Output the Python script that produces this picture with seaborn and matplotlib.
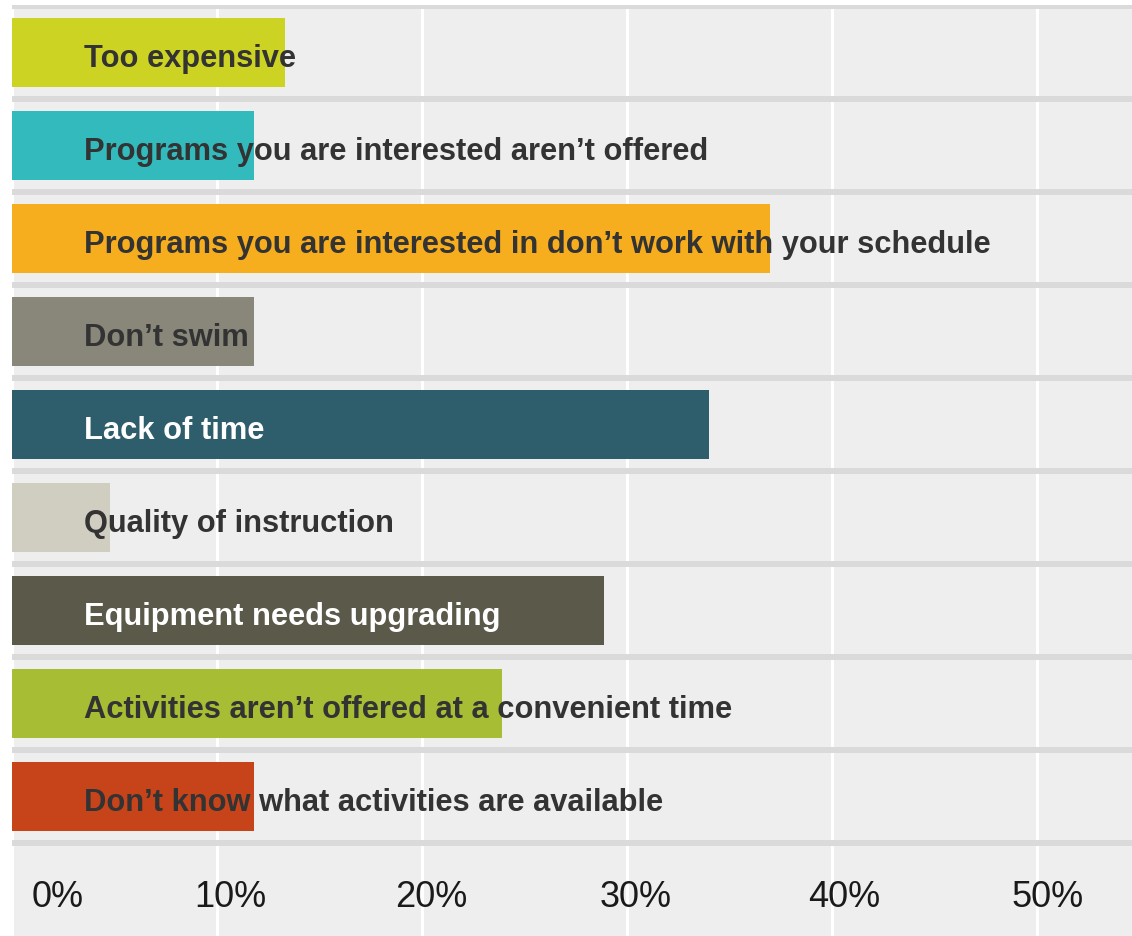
import pandas as pd
import seaborn as sns
import matplotlib.pyplot as plt
from matplotlib.transforms import ScaledTranslation, blended_transform_factory

# survey answers (share of respondents, %)
reasons = [
    "Too expensive",
    "Programs you are interested aren\u2019t offered",
    "Programs you are interested in don\u2019t work with your schedule",
    "Don\u2019t swim",
    "Lack of time",
    "Quality of instruction",
    "Equipment needs upgrading",
    "Activities aren\u2019t offered at a convenient time",
    "Don\u2019t know what activities are available",
]
shares = [13.3, 11.8, 37.0, 11.8, 34.0, 4.8, 28.9, 23.9, 11.8]
bar_colors = ["#cdd323", "#32babd", "#f6ae1e", "#88877a", "#2e5e6b",
              "#d0cec1", "#5b5949", "#a7bd34", "#c7441b"]
label_colors = ["#333333", "#333333", "#333333", "#333333", "#ffffff",
                "#333333", "#ffffff", "#333333", "#333333"]
x_ticks = [0, 10, 20, 30, 40, 50]
x_labels = ["0%", "10%", "20%", "30%", "40%", "50%"]

df = pd.DataFrame({"reason": reasons, "share": shares})

sns.set_style("white")
plt.rcParams["font.family"] = ["Liberation Sans", "DejaVu Sans"]

fig = plt.figure(figsize=(11.32, 9.37), dpi=100, facecolor="white")
ax = fig.add_axes([12 / 1132, 0, 1120 / 1132, 931 / 937])
ax.set_facecolor("#eeeeee")

sns.barplot(data=df, x="share", y="reason", hue="reason", orient="h",
            palette=dict(zip(reasons, bar_colors)), width=0.742,
            legend=False, saturation=1, linewidth=0, ax=ax)
for p in ax.patches:
    p.set_zorder(3)

ax.set_xlim(0, 54.66)
ax.set_ylim(9.495, -0.516)

# white vertical gridlines
ax.set_axisbelow(True)
ax.xaxis.grid(True, color="white", linewidth=2.2)
ax.yaxis.grid(False)

# grey row separators
for i in range(len(reasons) + 1):
    ax.axhline(i - 0.5, color="#dadada", linewidth=4.3, zorder=2)

# category labels inside the bars
trans = blended_transform_factory(ax.transAxes, ax.transData)
for i, (name, col) in enumerate(zip(reasons, label_colors)):
    ax.text(72 / 1120, i + 0.05, name, transform=trans, ha="left", va="center",
            fontsize=22.2, fontweight="bold", color=col, zorder=4)

ax.set_xticks(x_ticks)
ax.set_xticklabels(x_labels)
ax.tick_params(axis="x", length=0, pad=-41, labelsize=26, labelcolor="#1a1a1a")
offsets = [46, 13, 9, 9, 13, 11]
for lbl, dx in zip(ax.get_xticklabels(), offsets):
    lbl.set_transform(lbl.get_transform() + ScaledTranslation(dx / 100, 0, fig.dpi_scale_trans))

ax.set_yticks([])
ax.set_xlabel("")
ax.set_ylabel("")
sns.despine(ax=ax, left=True, bottom=True)

fig.savefig("out.png", dpi=100, facecolor=fig.get_facecolor())
